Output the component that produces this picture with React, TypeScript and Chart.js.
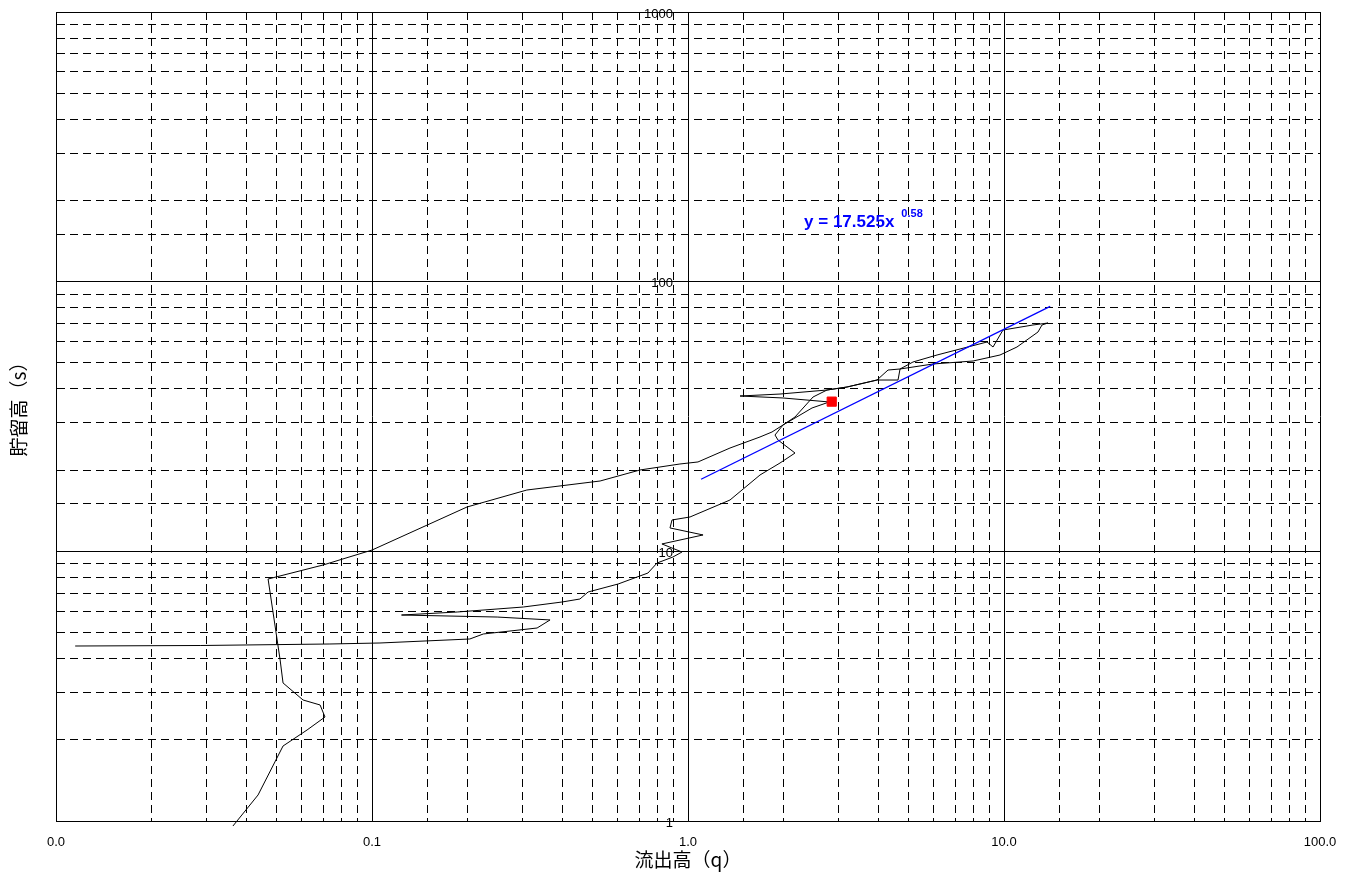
import React, { useEffect, useRef } from "react";
import { Chart, registerables } from "chart.js";

Chart.register(...registerables);

// 流出高 q (observed loop, in time order)
const qValues = [
  0.0115, 0.0286, 0.0736, 0.106, 0.204, 0.225, 0.333, 0.366, 0.249, 0.124,
  0.186, 0.301, 0.399, 0.455, 0.483, 0.601, 0.747, 0.798, 0.896, 0.957,
  0.827, 1.116, 0.877, 0.89, 1.015, 1.358, 1.69, 1.955, 2.181, 1.927,
  1.885, 1.998, 2.181, 2.487, 2.754, 3.186, 3.964, 4.295, 4.688, 5.152,
  6.138, 7.258, 8.836, 9.231, 9.927, 12.35, 13.78, 13.19, 12.81, 10.99,
  9.712, 7.979, 5.961, 4.688, 4.62, 3.964, 3.186, 2.754, 1.955, 1.461,
  1.998, 2.8, 2.469, 2.181, 1.998, 1.844, 1.69, 1.358, 1.0755, 0.943,
  0.705, 0.527, 0.309, 0.1998, 0.1, 0.07, 0.0469, 0.0512, 0.0523, 0.0605,
  0.0685, 0.071, 0.0623, 0.0523, 0.0436, 0.0363,
];
// 貯留高 s
const sValues = [
  4.456, 4.475, 4.533, 4.572, 4.731, 4.937, 5.196, 5.566, 5.706, 5.805,
  5.957, 6.216, 6.487, 6.656, 7.067, 7.565, 8.31, 9.05, 9.527, 9.943,
  10.65, 11.5, 12.21, 13.07, 13.41, 15.5, 19.19, 21.26, 23.15, 25.87,
  27.0, 29.41, 31.49, 37.35, 39.65, 40.68, 43.18, 47.03, 47.44, 50.36,
  53.46, 56.28, 59.74, 57.24, 66.18, 69.08, 70.26, 69.08, 65.06, 57.24,
  53.46, 50.79, 49.51, 47.44, 43.18, 43.18, 40.68, 39.65, 38.31, 37.67,
  37.04, 35.8, 34.01, 31.22, 29.41, 27.7, 26.55, 24.16, 21.45, 21.08,
  20.03, 18.23, 16.88, 14.6, 10.11, 8.898, 7.895, 3.954, 3.25, 2.81,
  2.693, 2.43, 2.175, 1.897, 1.249, 0.958,
];

// power-law fit line end points
const fitQ = [1.1, 14.0];
const fitS = [18.5, 81.0];

// highlighted point
const markQ = [2.85];
const markS = [35.9];

// axis ticks
const xMajorValues = [0.01, 0.1, 1, 10, 100];
const xTickLabels = ["0.0", "0.1", "1.0", "10.0", "100.0"];
const yMajorValues = [1, 10, 100, 1000];
const yTickLabels = ["1", "10", "100", "1000"];

const xTitle = "流出高（q）";
const yTitle = "貯留高（s）";
const equationMain = "y = 17.525x";
const equationExp = "0.58";
const equationAnchor = [2.33, 166];

const isPow10 = (v: number) => {
  const l = Math.log10(v);
  return Math.abs(l - Math.round(l)) < 1e-9;
};

const overlayPlugin = {
  id: "overlayText",
  afterDatasetsDraw(chart: any) {
    const { ctx, scales, chartArea } = chart;
    const xs = scales.x;
    const ys = scales.y;
    ctx.save();
    ctx.fillStyle = "#000";
    ctx.font = '13px "Liberation Sans", Arial, sans-serif';
    ctx.textAlign = "right";
    ctx.textBaseline = "middle";
    const ax = xs.getPixelForValue(1) - 15;
    yMajorValues.forEach((v, i) => {
      ctx.fillText(yTickLabels[i], ax, ys.getPixelForValue(v) + 2);
    });
    // y axis title (rotated)
    ctx.save();
    ctx.translate(11, (chartArea.top + chartArea.bottom) / 2 - 12);
    ctx.rotate(-Math.PI / 2);
    ctx.textAlign = "center";
    ctx.textBaseline = "middle";
    ctx.font = '19px "Noto Sans CJK JP", sans-serif';
    ctx.fillText(yTitle, 0, 0);
    ctx.restore();
    // equation
    const ex = xs.getPixelForValue(equationAnchor[0]);
    const ey = ys.getPixelForValue(equationAnchor[1]);
    ctx.fillStyle = "#0000ff";
    ctx.textAlign = "left";
    ctx.textBaseline = "middle";
    ctx.font = 'bold 17px "Liberation Sans", Arial, sans-serif';
    ctx.fillText(equationMain, ex, ey);
    const w = ctx.measureText(equationMain).width;
    ctx.font = 'bold 11px "Liberation Sans", Arial, sans-serif';
    ctx.fillText(equationExp, ex + w + 7, ey - 8);
    ctx.restore();
  },
};

export default function App() {
  const ref = useRef<HTMLCanvasElement | null>(null);

  useEffect(() => {
    if (!ref.current) return;
    const dash = (c: any) =>
      c.tick && !isPow10(c.tick.value) ? [8, 5] : [];
    const chart = new Chart(ref.current, {
      type: "scatter",
      data: {
        datasets: [
          {
            label: "loop",
            data: qValues.map((q, i) => ({ x: q, y: sValues[i] })),
            showLine: true,
            borderColor: "#000",
            borderWidth: 1,
            pointRadius: 0,
            tension: 0,
            clip: false as any,
            order: 3,
          },
          {
            label: "fit",
            data: fitQ.map((q, i) => ({ x: q, y: fitS[i] })),
            showLine: true,
            borderColor: "#0000ff",
            borderWidth: 1.3,
            pointRadius: 0,
            order: 2,
          },
          {
            label: "mark",
            data: markQ.map((q, i) => ({ x: q, y: markS[i] })),
            showLine: false,
            pointStyle: "rect",
            pointRadius: 6.5,
            backgroundColor: "#ff0000",
            borderColor: "#ff0000",
            borderWidth: 1,
            order: 1,
          },
        ],
      },
      options: {
        animation: false,
        responsive: true,
        maintainAspectRatio: false,
        layout: {
          autoPadding: false,
          padding: { top: 4, right: 24, left: 0, bottom: 0 },
        },
        plugins: {
          legend: { display: false },
          tooltip: { enabled: false },
        },
        scales: {
          x: {
            type: "logarithmic",
            min: 0.01,
            max: 100,
            afterFit: (s: any) => {
              s.height = 53;
            },
            grid: {
              color: "#000",
              lineWidth: 1,
              drawTicks: true,
              tickLength: 14,
              tickColor: "rgba(0,0,0,0)",
            },
            border: { display: true, color: "#000", width: 1, dash },
            ticks: {
              autoSkip: false,
              maxRotation: 0,
              padding: 0,
              color: "#000",
              font: { family: '"Liberation Sans", Arial, sans-serif', size: 13 },
              callback: (v: any) => {
                const val = Number(v);
                const idx = xMajorValues.findIndex((m) => Math.abs(m - val) / m < 1e-6);
                return idx >= 0 ? xTickLabels[idx] : "";
              },
            },
            title: {
              display: true,
              text: xTitle,
              color: "#000",
              font: { family: '"Noto Sans CJK JP", sans-serif', size: 19 },
              padding: { top: 0, bottom: 3 },
            },
          },
          y: {
            type: "logarithmic",
            min: 1,
            max: 1000,
            afterFit: (s: any) => {
              s.width = 48;
            },
            grid: { color: "#000", lineWidth: 1, drawTicks: false },
            border: { display: true, color: "#000", width: 1, dash },
            ticks: { display: false, autoSkip: false },
            title: { display: false },
          },
        },
      },
      plugins: [overlayPlugin],
    });
    return () => chart.destroy();
  }, []);

  return (
    <div style={{ width: 1336, height: 866, position: "relative" }}>
      <canvas ref={ref} />
    </div>
  );
}
